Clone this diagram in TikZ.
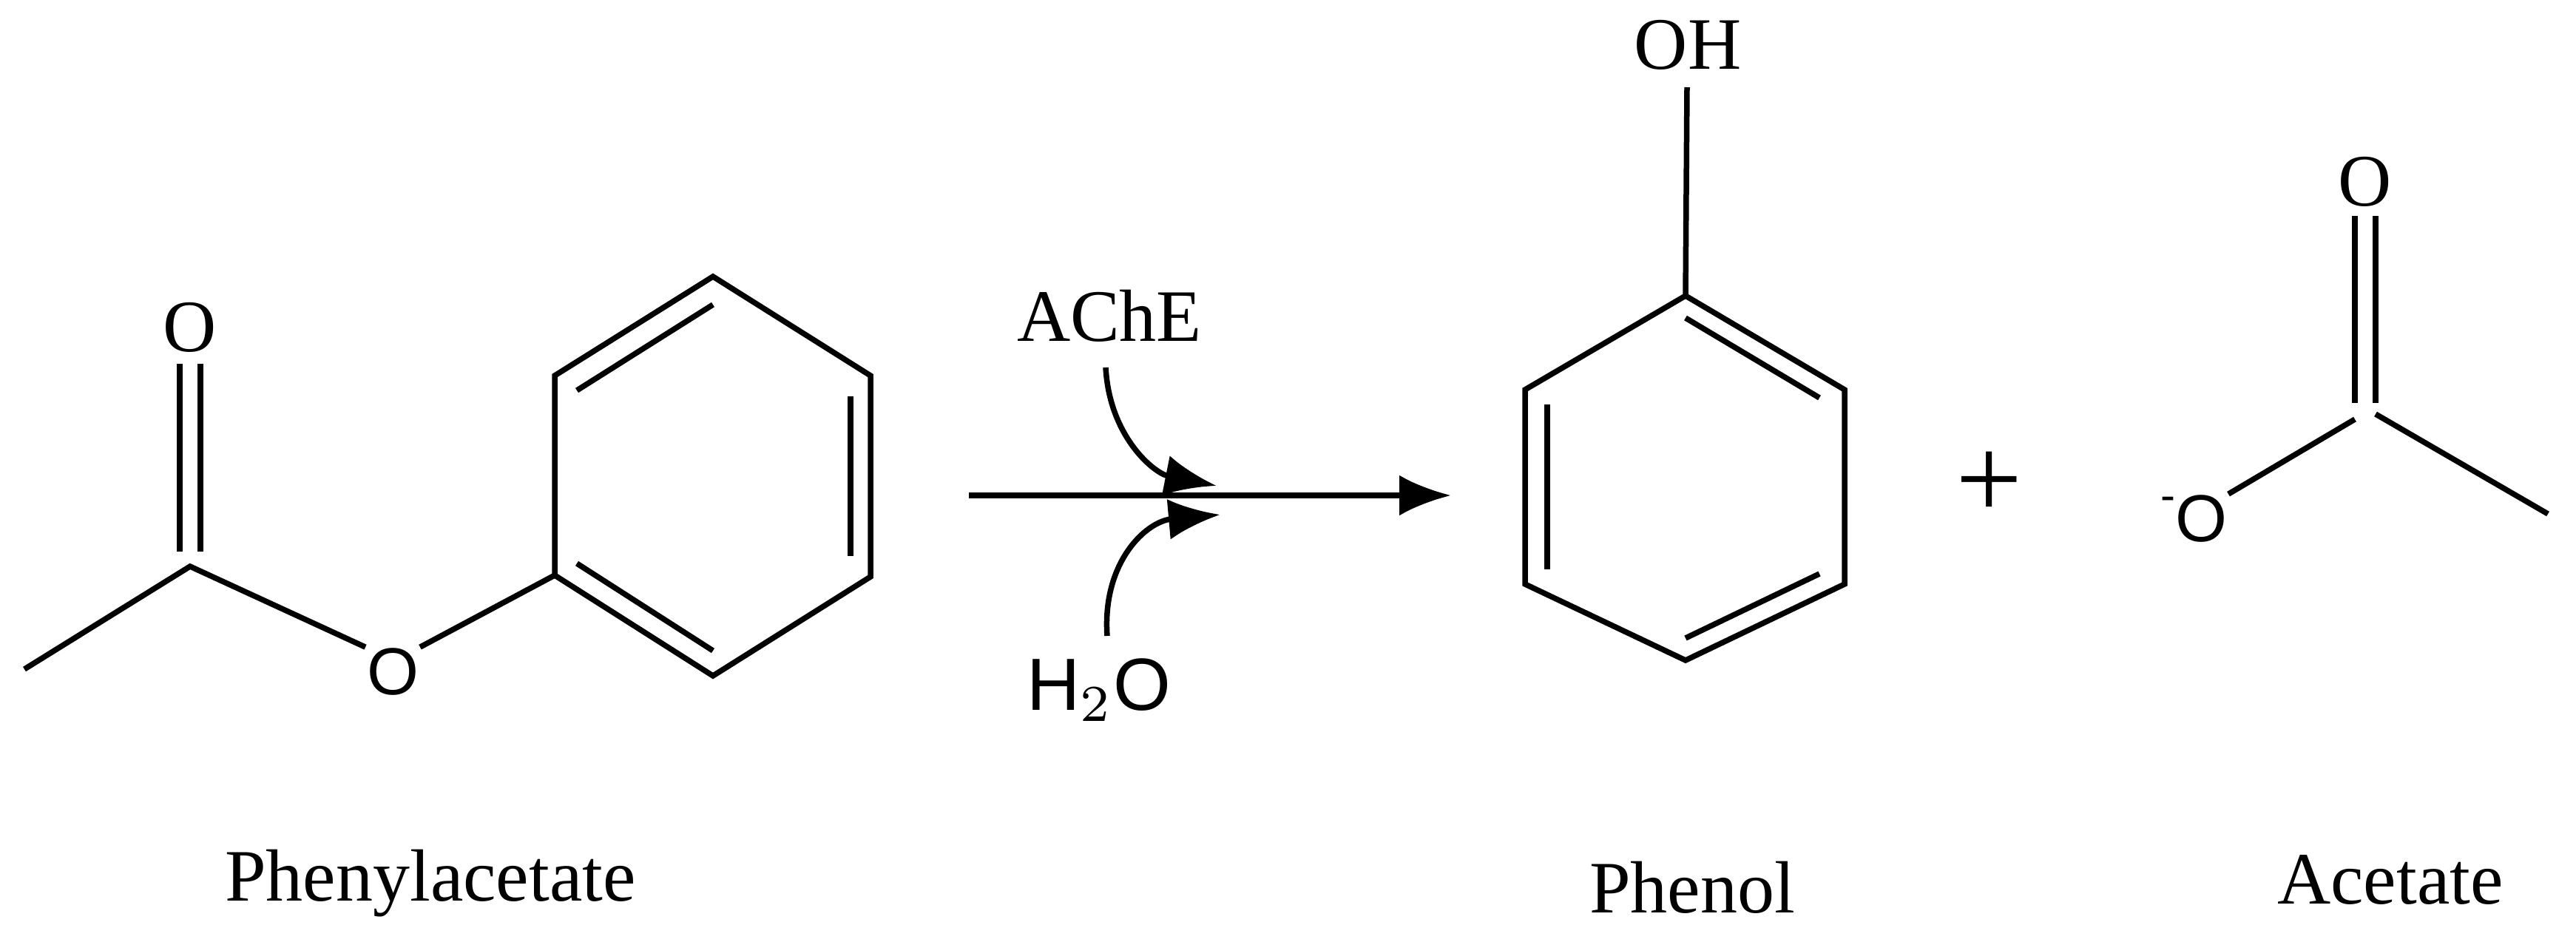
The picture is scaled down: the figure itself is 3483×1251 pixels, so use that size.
\documentclass[tikz,border=0pt]{standalone}
\usepackage{fontspec}
\setmainfont{Liberation Serif}
\newfontfamily\arialf{Liberation Sans}
\usetikzlibrary{arrows.meta}
\begin{document}
\begin{tikzpicture}[x=0.1pt,y=-0.1pt,
  bond/.style={line width=0.75pt},
  lbl/.style={inner sep=0pt,font=\fontsize{10}{12}\selectfont},
  atm/.style={inner sep=0pt,font=\fontsize{10}{12}\selectfont},
  satm/.style={inner sep=0pt,font=\arialf\fontsize{9}{11}\selectfont},
  rxn/.style={line width=0.75pt,-{Latex[length=7pt,width=5.5pt]}}]
\useasboundingbox (0,0) rectangle (3483,1251);
% Phenylacetate
\coordinate (me) at (33,905);
\coordinate (c1) at (257,766);
\node[atm] (o1) at (257,443) {O};
\node[satm] (o2) at (531,909) {O};
\coordinate (ip) at (750,778);
\coordinate (ul) at (750,508);
\coordinate (tp) at (964,374);
\coordinate (ur) at (1177,508);
\coordinate (lr) at (1177,780);
\coordinate (bt) at (964,914);
\draw[bond] (me) -- (c1) -- (o2.north west);
\draw[bond] (243,492) -- (243,746) (271,492) -- (271,746);
\draw[bond] (o2.north east) -- (ip);
\draw[bond] (ip) -- (ul) -- (tp) -- (ur) -- (lr) -- (bt) -- cycle;
\draw[bond] (780,528) -- (964,412);
\draw[bond] (1150,536) -- (1150,752);
\draw[bond] (780,762) -- (964,880);
\node[lbl] (t1) at (582,1195) {Phenylacetate};
% arrow
\coordinate (a0) at (1310,670);
\coordinate (a1) at (1962,670);
\draw[rxn] (a0) -- (a1);
\node[lbl] (ache) at (1500,427) {AChE};
\node[satm,font=\arialf\fontsize{10}{12}\selectfont] (h2o) at (1486,933) {H$_2$O};
\draw[rxn] (1495,497) .. controls (1500,590) and (1560,640) .. (1645,657);
\draw[rxn] (1497,860) .. controls (1490,760) and (1550,705) .. (1650,696);
% Phenol
\node[atm] (oh) at (2282,61) {OH};
\coordinate (p1) at (2279,400);
\coordinate (p2) at (2494,527);
\coordinate (p3) at (2494,790);
\coordinate (p4) at (2279,893);
\coordinate (p5) at (2062,790);
\coordinate (p6) at (2062,527);
\draw[bond] (2281,118) -- (p1);
\draw[bond] (p1) -- (p2) -- (p3) -- (p4) -- (p5) -- (p6) -- cycle;
\draw[bond] (2279,430) -- (2460,538);
\draw[bond] (2092,547) -- (2092,770);
\draw[bond] (2279,863) -- (2460,776);
\node[lbl] (t2) at (2288,1200) {Phenol};
\node[font=\fontsize{16}{18}\selectfont,inner sep=0pt] (plus) at (2690,656) {+};
% Acetate
\node[atm] (o3) at (3198,246) {O};
\coordinate (c2) at (3198,565);
\coordinate (me2) at (3445,695);
\node[satm] (o4) at (2966,702) {\raisebox{0.9ex}{\fontsize{6}{7}\selectfont -}O};
\draw[bond] (3184,292) -- (3184,545) (3212,292) -- (3212,545);
\draw[bond] (o4.north east) -- (3184,567);
\draw[bond] (3212,560) -- (me2);
\node[lbl] (t3) at (3232,1190) {Acetate};
\end{tikzpicture}
\end{document}
